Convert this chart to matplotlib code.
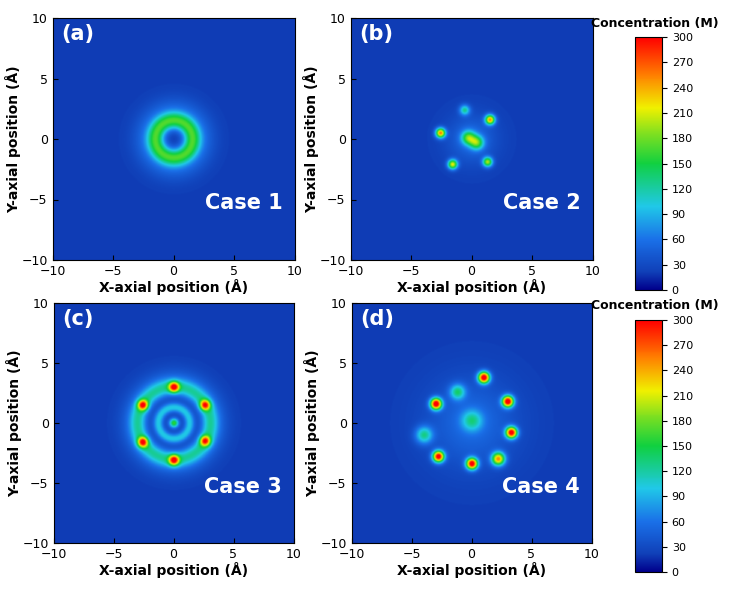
import numpy as np
import matplotlib
matplotlib.use("Agg")
import matplotlib.pyplot as plt
from matplotlib.colors import LinearSegmentedColormap

# peak lists: x, y, amplitude (M), width (Å); rings: radius, amplitude, width
case1_ring = [(1.5, 125, 0.5), (2.2, 35, 0.9)]
case1_peaks = []
case2_peaks = [(-2.6, 0.5, 230, 0.28), (1.5, 1.6, 220, 0.28), (-1.6, -2.1, 190, 0.28),
               (1.3, -1.9, 170, 0.28), (-0.3, 0.1, 130, 0.4), (0.4, -0.3, 130, 0.4),
               (-0.6, 2.4, 100, 0.3), (0, 0, 35, 1.4)]
case3_peaks = [(0, 3.0, 210, 0.3), (2.6, 1.5, 190, 0.3), (2.6, -1.5, 190, 0.3),
               (0, -3.1, 210, 0.3), (-2.6, -1.6, 200, 0.3), (-2.6, 1.5, 200, 0.3),
               (0, 0, 140, 0.28)]
case3_ring = [(3.0, 85, 0.5), (1.3, 80, 0.3), (3.6, 25, 0.8)]
case4_peaks = [(-3.0, 1.6, 300, 0.33), (1.0, 3.8, 300, 0.33), (3.0, 1.8, 300, 0.33),
               (3.3, -0.8, 290, 0.33), (2.2, -3.0, 220, 0.38), (0.0, -3.4, 290, 0.33),
               (-2.8, -2.8, 290, 0.33), (-1.2, 2.6, 100, 0.45), (-4.0, -1.0, 100, 0.5),
               (0, 0, 35, 2.6), (0, 0.2, 80, 0.6)]
case4_ring = []

labels = ["(a)", "(b)", "(c)", "(d)"]
cases = ["Case 1", "Case 2", "Case 3", "Case 4"]
cbar_ticks = list(range(0, 301, 30))

def field(peaks, rings, X, Y):
    Z = np.full_like(X, 20.0)
    R = np.hypot(X, Y)
    for (x0, y0, a, w) in peaks:
        Z += a * np.exp(-((X - x0) ** 2 + (Y - y0) ** 2) / (2 * w * w))
    for (r0, a, w) in rings:
        Z += a * np.exp(-((R - r0) ** 2) / (2 * w * w))
    return Z

cmap = LinearSegmentedColormap.from_list("orig", [
    (0.0, "#00008c"), (0.07, "#1040b8"), (0.2, "#1a70e8"), (0.33, "#20c8e8"),
    (0.5, "#10d040"), (0.62, "#80e020"), (0.72, "#f0f000"), (0.85, "#ff8000"),
    (1.0, "#ff0000")])

g = np.linspace(-10, 10, 400)
X, Y = np.meshgrid(g, g)
data = [field(case1_peaks, case1_ring, X, Y), field(case2_peaks, [], X, Y),
        field(case3_peaks, case3_ring, X, Y), field(case4_peaks, case4_ring, X, Y)]

W, H = 732, 591
fig = plt.figure(figsize=(W / 100, H / 100), dpi=100)
boxes = [(50, 18, 297, 260), (347, 18, 596, 260), (50, 303, 297, 543), (347, 303, 596, 543)]
for i, (x0, y0, x1, y1) in enumerate(boxes):
    ax = fig.add_axes([x0 / W, 1 - y1 / H, (x1 - x0) / W, (y1 - y0) / H])
    im = ax.imshow(data[i], extent=[-10, 10, -10, 10], origin="lower", cmap=cmap,
                   vmin=0, vmax=300, interpolation="bilinear")
    ax.set_xticks([-10, -5, 0, 5, 10])
    ax.set_yticks([-10, -5, 0, 5, 10])
    ax.tick_params(labelsize=9, direction="in")
    ax.set_xlabel("X-axial position (Å)", fontsize=10, fontweight="bold", labelpad=1)
    ax.set_ylabel("Y-axial position (Å)", fontsize=10, fontweight="bold", labelpad=0)
    ax.text(-9.3, 8.2, labels[i], color="white", fontsize=15, fontweight="bold")
    ax.text(5.8, -5.8, cases[i], color="white", fontsize=15, fontweight="bold", ha="center")
    if i in (1, 3):
        cy0, cy1 = (37, 290) if i == 1 else (320, 572)
        cax = fig.add_axes([635 / W, 1 - cy1 / H, 27 / W, (cy1 - cy0) / H])
        cb = fig.colorbar(im, cax=cax, ticks=cbar_ticks)
        cb.ax.tick_params(labelsize=8)
        fig.text(655 / W, 1 - (cy0 - 14) / H, "Concentration (M)", fontsize=9,
                 fontweight="bold", ha="center", va="center")
fig.savefig("out.png", dpi=100)
